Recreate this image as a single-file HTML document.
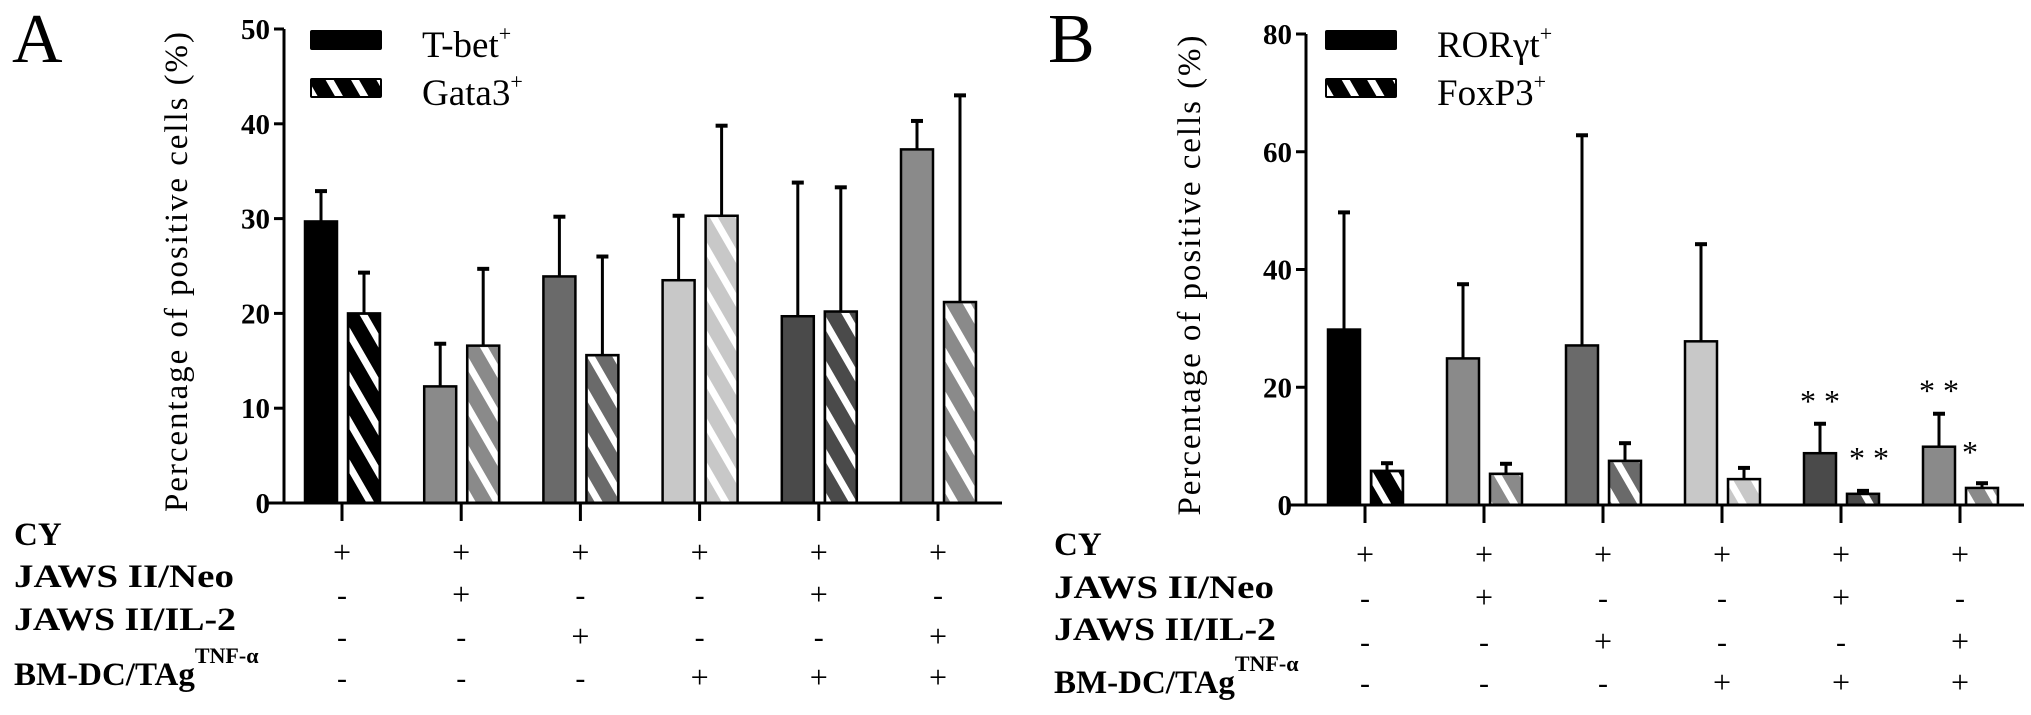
<!DOCTYPE html>
<html><head><meta charset="utf-8"><style>
html,body{margin:0;padding:0;background:#fff;}
svg{display:block;}
svg text, svg tspan{font-family:"Liberation Serif","Times New Roman","DejaVu Serif",serif;}
</style></head><body>
<svg id="fig" width="2031" height="715" viewBox="0 0 2031 715" font-family="Liberation Serif, serif">
<defs>
<pattern id="stripe" patternUnits="userSpaceOnUse" width="22" height="22" patternTransform="rotate(-30)">
<rect x="0" y="0" width="7" height="22" fill="#fff"/>
</pattern>
</defs>
</svg>
<script>
// Panel A data
const groupsA = ["g1","g2","g3","g4","g5","g6"];
const tbetVals = [29.7, 12.3, 23.9, 23.5, 19.7, 37.3];
const tbetErr  = [32.9, 16.8, 30.2, 30.3, 33.8, 40.3];
const gataVals = [20.0, 16.6, 15.6, 30.3, 20.2, 21.2];
const gataErr  = [24.3, 24.7, 26.0, 39.8, 33.3, 43.0];
const ticksA = [0, 10, 20, 30, 40, 50];
// Panel B data
const rorVals = [29.8, 24.9, 27.1, 27.8, 8.8, 9.9];
const rorErr  = [49.7, 37.5, 62.8, 44.3, 13.8, 15.5];
const foxVals = [5.8, 5.3, 7.5, 4.4, 1.9, 2.9];
const foxErr  = [7.1, 7.0, 10.5, 6.3, 2.4, 3.7];
const ticksB = [0, 20, 40, 60, 80];
const rorStars = ["", "", "", "", "* *", "* *"];
const foxStars = ["", "", "", "", "* *", "*"];
// shared condition table
const rowLabels = ["CY", "JAWS II/Neo", "JAWS II/IL-2", "BM-DC/TAg"];
const condCY   = ["+","+","+","+","+","+"];
const condNeo  = ["-","+","-","-","+","-"];
const condIL2  = ["-","-","+","-","-","+"];
const condBMDC = ["-","-","-","+","+","+"];
const groupColors = ["#000000","#8a8a8a","#6a6a6a","#c8c8c8","#4a4a4a","#8a8a8a"];

const NS="http://www.w3.org/2000/svg";
const svg=document.getElementById('fig');
function mk(tag,attrs,parent){const e=document.createElementNS(NS,tag);for(const k in attrs)e.setAttribute(k,attrs[k]);if(tag==='text')e.setAttribute('font-family','Liberation Serif, Times New Roman, serif');(parent||svg).appendChild(e);return e;}

function panel(cfg){
  const g=mk('g',{});
  
  
  const y=v=>cfg.y0-(v-0)*(cfg.y0-cfg.yTop)/cfg.max;
  const x=i=>cfg.x0+i*cfg.step;
  const L=mk('text',{x:cfg.letterX,y:62,'font-size':70},g);L.textContent=cfg.letter;
  
  
  const t=mk('text',{x:0,y:0,'font-size':33,'text-anchor':'middle',textLength:480,lengthAdjust:'spacing',transform:`translate(${cfg.titleX},${(cfg.y0+cfg.yTop)/2+6}) rotate(-90)`},g);
  t.textContent="Percentage of positive cells (%)";
  
  
  for(let i=0;i<cfg.a.length;i++){
    const cx=x(i);
    [[cfg.a,cfg.ae,-21,false,cfg.aStars],[cfg.b,cfg.be,22,true,cfg.bStars]].forEach(([vals,errs,off,striped,stars])=>{
      const bx=cx+off-16, bw=32;
      const ey=y(errs[i]);
      const el=mk('line',{x1:cx+off,x2:cx+off,y1:y(vals[i]),y2:ey,stroke:'#000','stroke-width':3},g);
      
      
      const cap=mk('line',{x1:cx+off-6,x2:cx+off+6,y1:ey,y2:ey,stroke:'#000','stroke-width':4},g);
      
      
      const r=mk('rect',{x:bx,y:y(vals[i]),width:bw,height:cfg.y0-y(vals[i]),fill:groupColors[i],stroke:'#000','stroke-width':2.5},g);
      
      
      if(striped){
        const s=mk('rect',{x:bx+1.5,y:y(vals[i])+1.5,width:bw-3,height:Math.max(0,cfg.y0-y(vals[i])-3),fill:'url(#stripe)'},g);
        
        
      }
      if(stars && stars[i]){
        let sx, sy;
        if(striped){ sx = cx+off + (stars[i].length>1 ? 6 : -12); sy = y(vals[i]) - 25; }
        else { sx = cx+off; sy = ey - 12; }
        const st=mk('text',{x:sx,y:sy,'font-size':32,'text-anchor':'middle'},g);
        st.textContent=stars[i];
        
        
      }
    });
  }
  const ya=mk('line',{x1:cfg.axisX,x2:cfg.axisX,y1:cfg.yTop,y2:cfg.y0,stroke:'#000','stroke-width':3},g);
  
  
  const xa=mk('line',{x1:cfg.axisX-18,x2:cfg.xEnd,y1:cfg.y0,y2:cfg.y0,stroke:'#000','stroke-width':3},g);
  
  
  cfg.ticks.forEach(v=>{
    const tk=mk('line',{x1:cfg.axisX-10,x2:cfg.axisX,y1:y(v),y2:y(v),stroke:'#000','stroke-width':3},g);
    
    
    const tl=mk('text',{x:cfg.axisX-14,y:y(v)+10,'font-size':29,'font-weight':'bold','text-anchor':'end'},g);
    tl.textContent=v;
    
    
  });
  for(let i=0;i<cfg.a.length;i++){
    const tk=mk('line',{x1:x(i),x2:x(i),y1:cfg.y0,y2:cfg.y0+18,stroke:'#000','stroke-width':3},g);
    
    
  }
  [[cfg.aName,false,30],[cfg.bName,true,78]].forEach(([nm,striped,ly])=>{
    const r=mk('rect',{x:cfg.legX,y:ly,width:72,height:20,fill:'#000',rx:2},g);
    
    
    if(striped){const s=mk('rect',{x:cfg.legX+2,y:ly+2,width:68,height:16,fill:'url(#stripe)'},g);
      
      }
    const tx=mk('text',{x:cfg.legX+112,y:ly+27,'font-size':37},g);
    tx.innerHTML=(striped?cfg.bLabel:cfg.aLabel)+'<tspan dy="-16" font-size="22">+</tspan>';
    
    
  });
  const conds=[condCY,condNeo,condIL2,condBMDC];
  rowLabels.forEach((lab,r)=>{
    const tl=mk('text',{x:cfg.labX,y:cfg.labY[r],'font-size':33,'font-weight':'bold'},g);
    if(r===3){tl.innerHTML='BM-DC/TAg<tspan dy="-22" font-size="22">TNF-α</tspan>';}
    else{tl.textContent=lab; if(r>0){tl.setAttribute('textLength',r===1?220:222);tl.setAttribute('lengthAdjust','spacingAndGlyphs');}}
    
    
    conds[r].forEach((c,i)=>{
      const ct=mk('text',{x:x(i),y:cfg.symY[r]+10,'font-size':c==='+'?32:30,'text-anchor':'middle'},g);
      ct.textContent=c;
      
      
    });
  });
}
panel({name:'panel-a',letter:'A',letterX:12,titleX:187,x0:342,step:119.2,y0:503,yTop:29,max:50,axisX:284,xEnd:1002,
  a:tbetVals,ae:tbetErr,b:gataVals,be:gataErr,ticks:ticksA,aName:'tbet',bName:'gata3',aLabel:'T-bet',bLabel:'Gata3',
  legX:310,labX:14,labY:[545,587,630,685],symY:[553,595,637,678]});
panel({name:'panel-b',letter:'B',letterX:1048,titleX:1200,x0:1365,step:119,y0:505,yTop:34,max:80,axisX:1306,xEnd:2024,
  a:rorVals,ae:rorErr,b:foxVals,be:foxErr,ticks:ticksB,aName:'rorgt',bName:'foxp3',aLabel:'RORγt',bLabel:'FoxP3',
  aStars:rorStars,bStars:foxStars,
  legX:1325,labX:1054,labY:[555,598,640,693],symY:[555,598,642,683]});
</script>
</body></html>
